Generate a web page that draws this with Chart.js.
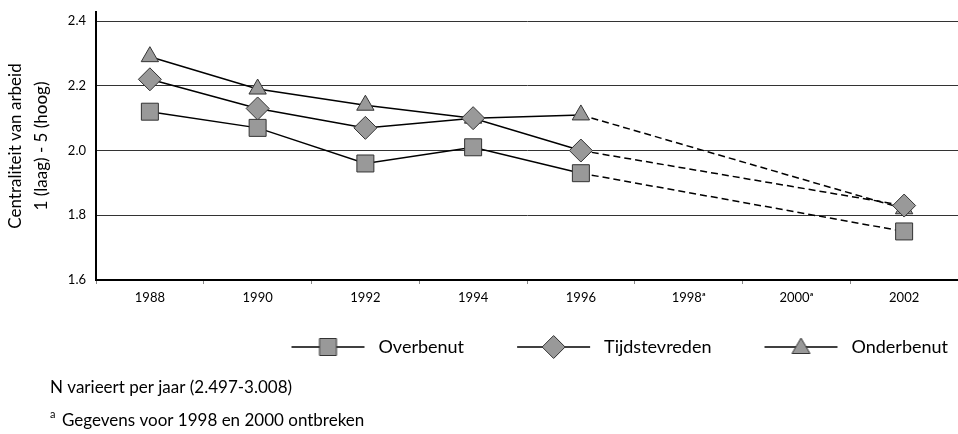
<!DOCTYPE html>
<html lang="nl">
<head>
<meta charset="UTF-8">
<title>Centraliteit van arbeid</title>
<script src="https://cdn.jsdelivr.net/npm/chart.js@4.4.1/dist/chart.umd.min.js"></script>
<style>
    body { margin: 0; background: #ffffff; }
    canvas { display: block; }
</style>
</head>
<body>
<canvas id="chart" width="958" height="434"></canvas>
<script>
// data (1998 and 2000 missing)
const years = ['1988', '1990', '1992', '1994', '1996', '1998\u1d43', '2000\u1d43', '2002'];
const overbenut = [2.12, 2.07, 1.96, 2.01, 1.93, null, null, 1.75];
const tijdstevreden = [2.22, 2.13, 2.07, 2.10, 2.00, null, null, 1.83];
const onderbenut = [2.29, 2.19, 2.14, 2.10, 2.11, null, null, 1.82];
const yTicks = [1.6, 1.8, 2.0, 2.2, 2.4];
const seriesNames = ['Overbenut', 'Tijdstevreden', 'Onderbenut'];
const notes = ['N varieert per jaar (2.497-3.008)', 'Gegevens voor 1998 en 2000 ontbreken'];

const FONT = 'Lato, "Open Sans", sans-serif';
const markerFill = '#999999';
const markerEdge = '#333333';

// dashed where the line bridges the missing years
const gapDash = ctx => (ctx.p0.skip || ctx.p1.skip) ? [7, 4] : undefined;

function series(label, data, style, radius, order) {
    return {
        label: label,
        data: data,
        borderColor: '#000000',
        borderWidth: 1.5,
        pointStyle: style,
        pointRadius: radius,
        pointHoverRadius: radius,
        pointBackgroundColor: markerFill,
        pointBorderColor: markerEdge,
        pointBorderWidth: 1,
        spanGaps: true,
        tension: 0,
        order: order,
        segment: { borderDash: gapDash }
    };
}

// legend icon: short line with the marker in the middle
function legendIcon(style) {
    const c = document.createElement('canvas');
    c.width = 121;
    c.height = 26;
    const g = c.getContext('2d');
    g.strokeStyle = '#000000';
    g.lineWidth = 1.5;
    g.beginPath();
    g.moveTo(43, 13);
    g.lineTo(116, 13);
    g.stroke();
    const cx = 79.5, cy = 13;
    g.fillStyle = markerFill;
    g.strokeStyle = markerEdge;
    g.lineWidth = 1;
    g.beginPath();
    if (style === 'rect') {
        g.rect(cx - 8.5, cy - 8.5, 17, 17);
    } else if (style === 'rectRot') {
        g.moveTo(cx, cy - 11.5);
        g.lineTo(cx + 11.5, cy);
        g.lineTo(cx, cy + 11.5);
        g.lineTo(cx - 11.5, cy);
        g.closePath();
    } else {
        g.moveTo(cx, cy - 9);
        g.lineTo(cx + 9, cy + 6.5);
        g.lineTo(cx - 9, cy + 6.5);
        g.closePath();
    }
    g.fill();
    g.stroke();
    return c;
}
const icons = [legendIcon('rect'), legendIcon('rectRot'), legendIcon('triangle')];

// footnotes below the legend
const footnotes = {
    id: 'footnotes',
    afterDraw(chart) {
        const g = chart.ctx;
        g.save();
        g.fillStyle = '#000000';
        g.textBaseline = 'middle';
        g.font = '17px ' + FONT;
        g.fillText(notes[0], 50, 388);
        g.font = '11px ' + FONT;
        g.fillText('a', 50, 414);
        g.font = '17px ' + FONT;
        g.fillText(notes[1], 62, 421);
        g.restore();
    }
};

new Chart(document.getElementById('chart'), {
    type: 'line',
    data: {
        labels: years,
        datasets: [
            series(seriesNames[0], overbenut, 'rect', 12, 2),
            series(seriesNames[1], tijdstevreden, 'rectRot', 11.5, 0),
            series(seriesNames[2], onderbenut, 'triangle', 10, 1)
        ]
    },
    options: {
        responsive: false,
        animation: false,
        layout: {
            autoPadding: false,
            padding: { top: 12, right: 0, bottom: 68, left: 0 }
        },
        plugins: {
            tooltip: { enabled: false },
            legend: {
                position: 'bottom',
                align: 'end',
                labels: {
                    usePointStyle: true,
                    pointStyleWidth: 121,
                    padding: 10,
                    color: '#000000',
                    font: { family: FONT, size: 18 },
                    generateLabels: chart => chart.data.datasets.map((ds, i) => ({
                        text: ds.label,
                        pointStyle: icons[i],
                        datasetIndex: i,
                        hidden: false,
                        lineWidth: 0,
                        fontColor: '#000000'
                    }))
                }
            }
        },
        scales: {
            x: {
                offset: true,
                grid: {
                    offset: true,
                    drawOnChartArea: false,
                    drawTicks: true,
                    tickLength: 4,
                    color: '#888888'
                },
                border: { color: '#000000', width: 2 },
                ticks: {
                    color: '#000000',
                    padding: 6,
                    maxRotation: 0,
                    autoSkip: false,
                    font: { family: FONT, size: 13 }
                },
                afterFit: scale => {
                    scale.height = 48;
                    scale.paddingLeft = 0;
                    scale.paddingRight = 0;
                }
            },
            y: {
                min: 1.6,
                max: 2.428,
                afterBuildTicks: scale => { scale.ticks = yTicks.map(v => ({ value: v })); },
                grid: {
                    drawTicks: false,
                    color: '#333333',
                    lineWidth: 1
                },
                border: { color: '#000000', width: 2 },
                ticks: {
                    color: '#000000',
                    padding: 10,
                    font: { family: FONT, size: 13 },
                    callback: v => v.toFixed(1)
                },
                title: {
                    display: true,
                    text: ['Centraliteit van arbeid', '1 (laag) - 5 (hoog)'],
                    color: '#000000',
                    font: { family: FONT, size: 17, lineHeight: 1.5 },
                    padding: { top: 3, bottom: 0 }
                },
                afterFit: scale => {
                    scale.width = 96;
                    scale.paddingTop = 0;
                    scale.paddingBottom = 0;
                }
            }
        }
    },
    plugins: [footnotes]
});
</script>
</body>
</html>
